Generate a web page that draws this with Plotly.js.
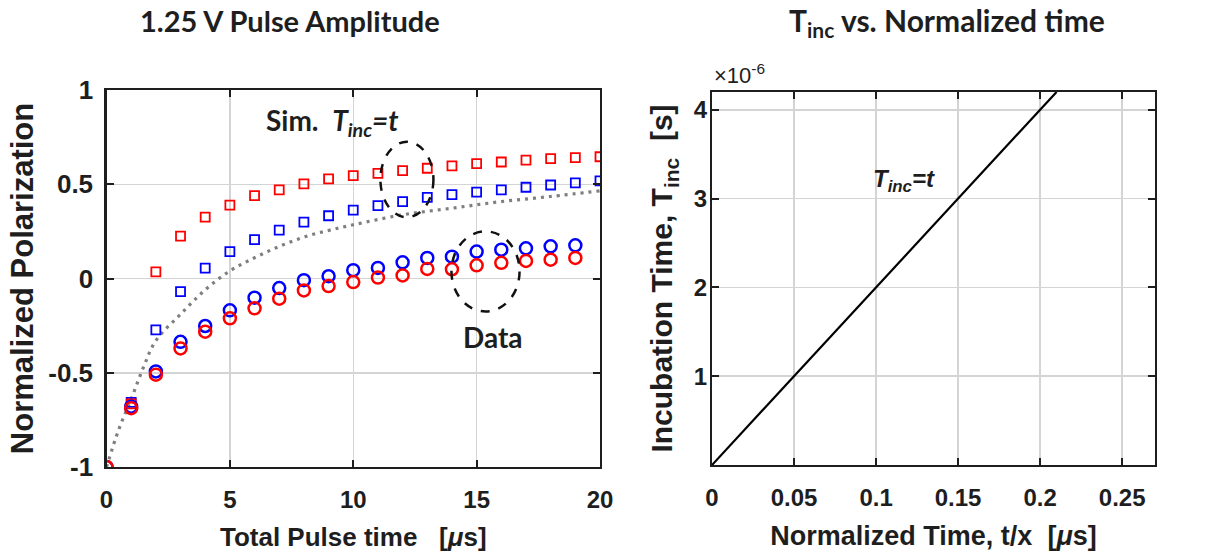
<!DOCTYPE html>
<html>
<head>
<meta charset="utf-8">
<script src="https://cdn.plot.ly/plotly-3.0.1.min.js"></script>
<style>html,body{margin:0;padding:0;background:#fff;}#chart{width:1226px;height:556px;}</style>
</head>
<body>
<div id="chart"></div>
<script>
// ---- Left panel data ----
const pulseTimeData = [0,1,2,3,4,5,6,7,8,9,10,11,12,13,14,15,16,17,18,19];
const blueData = [-1, -0.68, -0.493, -0.336, -0.252, -0.169, -0.102, -0.051, -0.009, 0.012, 0.044, 0.056, 0.086, 0.109, 0.116, 0.143, 0.153, 0.16, 0.171, 0.176];
const redData  = [-1, -0.688, -0.51, -0.371, -0.282, -0.211, -0.158, -0.107, -0.063, -0.04, -0.019, 0.005, 0.016, 0.051, 0.049, 0.07, 0.083, 0.093, 0.1, 0.109];
const pulseTimeSim = [1,2,3,4,5,6,7,8,9,10,11,12,13,14,15,16,17,18,19,20];
const blueSim = [-0.657, -0.273, -0.07, 0.055, 0.143, 0.206, 0.257, 0.299, 0.333, 0.363, 0.387, 0.408, 0.43, 0.445, 0.458, 0.47, 0.484, 0.496, 0.507, 0.518];
const redSim  = [-0.665, 0.035, 0.225, 0.326, 0.389, 0.44, 0.47, 0.502, 0.528, 0.546, 0.558, 0.572, 0.585, 0.597, 0.609, 0.618, 0.628, 0.636, 0.641, 0.646];
const curveX = [0, 0.5, 1, 1.5, 2, 3, 4, 5, 6, 7, 8, 9, 10, 12, 14, 16, 18, 20];
const curveY = [-1, -0.8, -0.64, -0.47, -0.33, -0.19, -0.06, 0.04, 0.11, 0.17, 0.22, 0.255, 0.285, 0.338, 0.373, 0.408, 0.435, 0.465];
const leftXTicks = [0, 5, 10, 15, 20];
const leftYTicks = [-1, -0.5, 0, 0.5, 1];
const leftYTickText = ['-1', '-0.5', '0', '0.5', '1'];

// ---- Right panel data ----
const normTime = [0, 0.21];
const incTime  = [0, 4.2e-6];
const rightXTicks = [0, 0.05, 0.1, 0.15, 0.2, 0.25];
const rightXTickText = ['0', '0.05', '0.1', '0.15', '0.2', '0.25'];
const rightYTicks = [1e-6, 2e-6, 3e-6, 4e-6];
const rightYTickText = ['1', '2', '3', '4'];

const RED = '#ff0000', BLUE = '#0000ff';
const AX = 'Liberation Sans, Arial, sans-serif';
const TITLEF = 'Lato, Open Sans, sans-serif';
const INK = '#1e1e1e';

const traces = [
  {x: curveX, y: curveY, mode: 'lines', line: {color: '#7f7f7f', width: 3.2, dash: '3px,5px', shape: 'spline'}, xaxis: 'x', yaxis: 'y', hoverinfo: 'skip'},
  {x: pulseTimeSim, y: blueSim, mode: 'markers', marker: {symbol: 'square-open', size: 9, color: BLUE, line: {width: 1.8, color: BLUE}}, xaxis: 'x', yaxis: 'y'},
  {x: pulseTimeSim, y: redSim, mode: 'markers', marker: {symbol: 'square-open', size: 9, color: RED, line: {width: 1.8, color: RED}}, xaxis: 'x', yaxis: 'y'},
  {x: pulseTimeData, y: blueData, mode: 'markers', marker: {symbol: 'circle-open', size: 12, color: BLUE, line: {width: 2.5, color: BLUE}}, xaxis: 'x', yaxis: 'y'},
  {x: pulseTimeData, y: redData, mode: 'markers', marker: {symbol: 'circle-open', size: 12, color: RED, line: {width: 2.5, color: RED}}, xaxis: 'x', yaxis: 'y'},
  {x: normTime, y: incTime, mode: 'lines', line: {color: '#000', width: 2.2}, xaxis: 'x2', yaxis: 'y2'}
];

const axCommon = {
  showline: true, linecolor: INK, linewidth: 2.2, mirror: 'allticks',
  ticks: 'inside', ticklen: 7, tickwidth: 2, tickcolor: INK,
  showgrid: true, gridcolor: '#d4d4d4', gridwidth: 1.5, zeroline: false,
  tickfont: {family: AX, size: 24, color: INK, weight: 'bold'}
};

const layout = {
  width: 1226, height: 556, autosize: false,
  margin: {l: 0, r: 0, t: 0, b: 0},
  paper_bgcolor: '#fff', plot_bgcolor: '#fff',
  showlegend: false,
  xaxis: Object.assign({}, axCommon, {
    domain: [106.5/1226, 600/1226], range: [0, 20],
    tickvals: leftXTicks, ticklabelstandoff: 10,
    title: {text: 'Total Pulse time \u00a0\u00a0[<i>μ</i>s]', font: {family: AX, size: 26, color: INK, weight: 'bold'}, standoff: 16}
  }),
  yaxis: Object.assign({}, axCommon, {
    domain: [1 - 467/556, 1 - 90/556], range: [-1, 1],
    tickvals: leftYTicks, ticktext: leftYTickText, ticklabelstandoff: 6,
    tickfont: {family: AX, size: 26, color: INK, weight: 'bold'},
    title: {text: 'Normalized Polarization', font: {family: AX, size: 31, color: INK, weight: 'bold'}, standoff: 6}
  }),
  xaxis2: Object.assign({}, axCommon, {
    anchor: 'y2',
    domain: [712/1226, 1155/1226], range: [0, 0.27],
    tickvals: rightXTicks, ticktext: rightXTickText, ticklabelstandoff: 10,
    title: {text: 'Normalized Time, t/x \u00a0[<i>μ</i>s]', font: {family: AX, size: 27, color: INK, weight: 'bold'}, standoff: 16}
  }),
  yaxis2: Object.assign({}, axCommon, {
    anchor: 'x2',
    domain: [1 - 465/556, 1 - 92/556], range: [0, 4.2e-6],
    tickvals: rightYTicks, ticktext: rightYTickText, ticklabelstandoff: -2,
    title: {text: 'Incubation Time, T<sub>inc</sub> \u00a0[s]', font: {family: AX, size: 30, color: INK, weight: 'bold'}, standoff: 12}
  }),
  shapes: [
    {type: 'circle', xref: 'x', yref: 'y', x0: 11.1, x1: 13.25, y0: 0.325, y1: 0.725, line: {color: '#111', width: 2.5, dash: 'dash'}},
    {type: 'circle', xref: 'x', yref: 'y', x0: 13.98, x1: 16.74, y0: -0.175, y1: 0.25, line: {color: '#111', width: 2.5, dash: 'dash'}}
  ],
  annotations: [
    {xref: 'paper', yref: 'paper', x: 290/1226, y: 1 - 20/556, text: '<b>1.25 V Pulse Amplitude</b>', showarrow: false, font: {family: TITLEF, size: 29, color: INK}, xanchor: 'center', yanchor: 'middle'},
    {xref: 'paper', yref: 'paper', x: 947/1226, y: 1 - 22/556, text: '<b>T<sub>inc</sub> vs. Normalized time</b>', showarrow: false, font: {family: TITLEF, size: 30, color: INK}, xanchor: 'center', yanchor: 'middle'},
    {xref: 'paper', yref: 'paper', x: 712/1226, y: 1 - 74/556, text: '×10<sup>-6</sup>', showarrow: false, font: {family: AX, size: 22, color: INK}, xanchor: 'left', yanchor: 'middle'},
    {xref: 'x', yref: 'y', x: 9.15, y: 0.83, text: '<b>Sim. \u00a0<i>T<sub>inc</sub>=t</i></b>', showarrow: false, font: {family: TITLEF, size: 28, color: INK}, xanchor: 'center', yanchor: 'middle'},
    {xref: 'x', yref: 'y', x: 15.65, y: -0.31, text: '<b>Data</b>', showarrow: false, font: {family: TITLEF, size: 28, color: INK}, xanchor: 'center', yanchor: 'middle'},
    {xref: 'x2', yref: 'y2', x: 0.117, y: 3.2e-6, text: '<b><i>T<sub>inc</sub>=t</i></b>', showarrow: false, font: {family: AX, size: 24, color: INK}, xanchor: 'center', yanchor: 'middle'}
  ]
};

Plotly.newPlot('chart', traces, layout, {staticPlot: true, displayModeBar: false});
</script>
</body>
</html>
